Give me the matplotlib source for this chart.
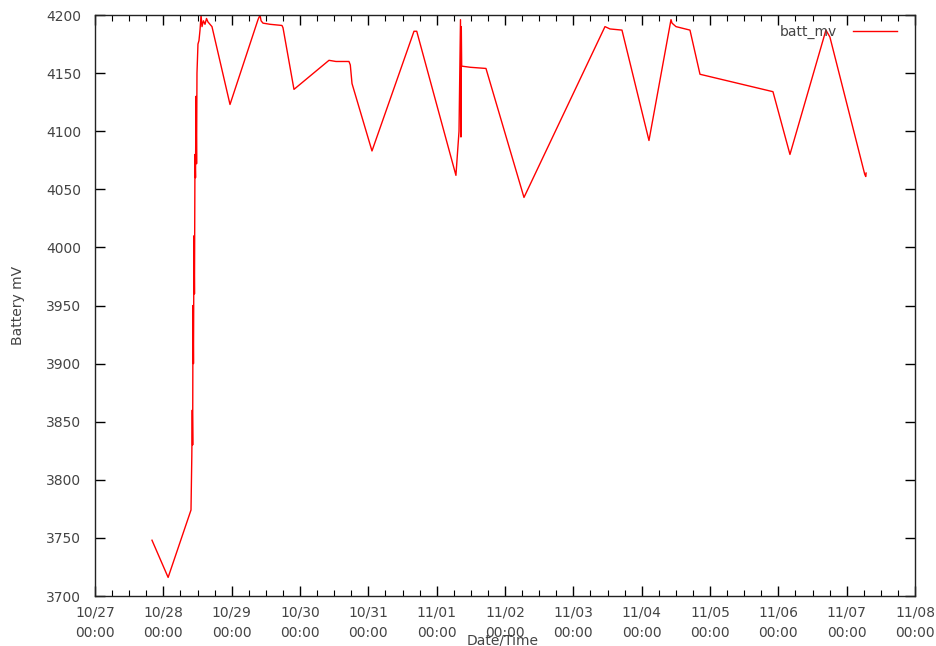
import matplotlib
matplotlib.use("Agg")
import matplotlib.pyplot as plt
import matplotlib.dates as mdates
import pandas as pd

times = [
    "2013-10-27 20:01", "2013-10-28 01:41", "2013-10-28 09:43", "2013-10-28 10:00",
    "2013-10-28 10:10", "2013-10-28 10:18", "2013-10-28 10:25", "2013-10-28 10:35",
    "2013-10-28 10:46", "2013-10-28 10:56", "2013-10-28 11:07", "2013-10-28 11:18",
    "2013-10-28 11:28", "2013-10-28 11:40", "2013-10-28 11:49", "2013-10-28 12:10",
    "2013-10-28 12:31", "2013-10-28 12:53", "2013-10-28 13:15", "2013-10-28 13:35",
    "2013-10-28 14:05", "2013-10-28 14:38", "2013-10-28 15:10", "2013-10-28 15:41",
    "2013-10-28 17:05", "2013-10-28 23:25", "2013-10-29 09:15", "2013-10-29 09:57",
    "2013-10-29 10:20", "2013-10-29 11:00", "2013-10-29 13:28", "2013-10-29 17:40",
    "2013-10-29 18:02", "2013-10-29 21:53", "2013-10-30 10:11", "2013-10-30 12:38",
    "2013-10-30 17:12", "2013-10-30 17:40", "2013-10-30 18:16", "2013-10-31 01:17",
    "2013-10-31 16:02", "2013-10-31 17:00", "2013-11-01 06:46", "2013-11-01 07:51",
    "2013-11-01 08:22", "2013-11-01 08:32", "2013-11-01 08:39", "2013-11-01 08:47",
    "2013-11-01 11:50", "2013-11-01 17:19", "2013-11-02 06:40", "2013-11-03 11:07",
    "2013-11-03 12:52", "2013-11-03 17:05", "2013-11-04 02:34", "2013-11-04 10:18",
    "2013-11-04 10:40", "2013-11-04 12:03", "2013-11-04 16:58", "2013-11-04 20:29",
    "2013-11-05 22:07", "2013-11-06 04:05", "2013-11-06 16:43", "2013-11-06 18:07",
    "2013-11-07 06:20", "2013-11-07 06:42", "2013-11-07 06:50",
]
batt_mv = [
    3748, 3716, 3774, 3820,
    3860, 3830, 3950, 3900,
    4010, 3960, 4080, 4060,
    4130, 4072, 4150, 4175,
    4178, 4187, 4200, 4190,
    4195, 4192, 4197, 4194,
    4190, 4123, 4196, 4200,
    4195, 4193, 4192, 4191,
    4189, 4136, 4161, 4160,
    4160, 4157, 4141, 4083,
    4186, 4186, 4062, 4100,
    4196, 4095, 4190, 4156,
    4155, 4154, 4043, 4190,
    4188, 4187, 4092, 4196,
    4193, 4190, 4187, 4149,
    4134, 4080, 4187, 4181,
    4063, 4061, 4064,
]

x_start = "2013-10-27 00:00"
x_end = "2013-11-08 00:00"
y_min, y_max = 3700, 4200

t = pd.to_datetime(times)

fig = plt.figure(figsize=(9.36, 6.46), dpi=100)
ax = fig.add_axes([95/936, 1-596/646, 820/936, 581/646])

ax.plot(t, batt_mv, color="#ff0000", linewidth=1.0, label="batt_mv")

ax.set_xlim(pd.Timestamp(x_start), pd.Timestamp(x_end))
ax.set_ylim(y_min, y_max)
ax.xaxis.set_major_locator(mdates.DayLocator())
ax.xaxis.set_minor_locator(mdates.HourLocator(byhour=[6, 12, 18]))
ax.xaxis.set_major_formatter(mdates.DateFormatter("%m/%d\n%H:%M"))
ax.set_yticks(range(y_min, y_max + 1, 50))

txt = "#444444"
ax.tick_params(axis="x", which="major", direction="in", length=7, width=1,
               top=True, labelsize=10, labelcolor=txt, pad=7)
ax.tick_params(axis="y", which="major", direction="in", length=7, width=1,
               right=True, labelsize=10, labelcolor=txt, pad=10)
ax.tick_params(axis="x", which="minor", direction="in", length=4, width=0.8, top=True)
for lbl in ax.get_xticklabels():
    lbl.set_linespacing(1.55)
for s in ax.spines.values():
    s.set_linewidth(1.0)
    s.set_color("#222222")

ax.set_ylabel("Battery mV", fontsize=10, color=txt)
ax.yaxis.set_label_coords((18-95)/820, 0.5)
ax.set_xlabel("Date/Time", fontsize=10, color=txt)
ax.xaxis.set_label_coords(0.4976, -(640-596)/581)
ax.xaxis.label.set_va("center")
ax.yaxis.label.set_va("center")

ax.legend(loc="upper right", bbox_to_anchor=(897/936, 1-25/646),
          bbox_transform=fig.transFigure, frameon=False, markerfirst=False,
          handlelength=3.2, handletextpad=1.1, borderpad=0, borderaxespad=0,
          fontsize=10, labelcolor=txt)

fig.savefig("out.png", dpi=100)
